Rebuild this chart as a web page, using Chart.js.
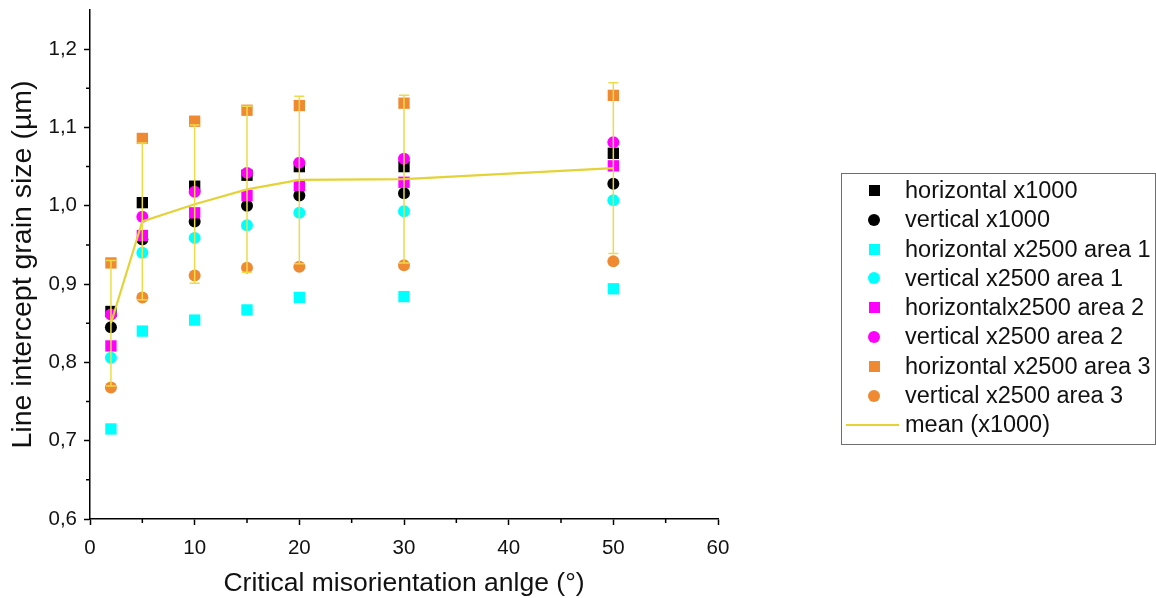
<!DOCTYPE html>
<html>
<head>
<meta charset="utf-8">
<script src="https://cdn.jsdelivr.net/npm/chart.js@4.4.1/dist/chart.umd.min.js"></script>
<style>
  html, body { margin: 0; padding: 0; background: #fff; }
  #wrap { position: relative; width: 1156px; height: 598px; }
  #legend {
    position: absolute; left: 841px; top: 173px; width: 313px; height: 268px;
    border: 1px solid #6e6e6e; font-family: "Liberation Sans", Arial, sans-serif;
    font-size: 23.5px; color: #111; padding-top: 2px; box-sizing: content-box;
  }
  .row { position: relative; height: 29.3px; line-height: 29.3px; }
  .row .txt { position: absolute; left: 63px; top: 0; white-space: nowrap; }
  .row .mk { position: absolute; }
</style>
</head>
<body>
<div id="wrap">
  <canvas id="myChart" width="1156" height="598"></canvas>
  <div id="legend"></div>
</div>
<script>
// 데이터
const angles = [2, 5, 10, 15, 20, 30, 50];
const horizontal1000 = [0.865, 1.004, 1.025, 1.039, 1.050, 1.050, 1.067];
const vertical1000 = [0.845, 0.957, 0.980, 1.000, 1.013, 1.016, 1.028];
const horizontal2500a1 = [0.715, 0.840, 0.854, 0.867, 0.883, 0.884, 0.894];
const vertical2500a1 = [0.806, 0.940, 0.959, 0.975, 0.991, 0.993, 1.007];
const horizontal2500a2 = [0.821, 0.962, 0.991, 1.013, 1.026, 1.030, 1.051];
const vertical2500a2 = [0.861, 0.986, 1.018, 1.042, 1.055, 1.060, 1.081];
const horizontal2500a3 = [0.927, 1.086, 1.108, 1.122, 1.128, 1.131, 1.141];
const vertical2500a3 = [0.768, 0.883, 0.911, 0.921, 0.922, 0.924, 0.929];
const mean1000 = [0.850, 0.980, 1.002, 1.021, 1.033, 1.034, 1.048];
const meanErr = [0.080, 0.100, 0.101, 0.106, 0.107, 0.107, 0.109];

const xTicks = [0, 10, 20, 30, 40, 50, 60];
const yTicks = [0.6, 0.7, 0.8, 0.9, 1.0, 1.1, 1.2];

const ORANGE = '#f08a32';
const YELLOW = '#e3d337';
const FONT = "'Liberation Sans', Arial, sans-serif";

const series = [
    { label: 'horizontal x1000', data: horizontal1000, color: '#000000', shape: 'rect' },
    { label: 'vertical x1000', data: vertical1000, color: '#000000', shape: 'circle' },
    { label: 'horizontal x2500 area 1', data: horizontal2500a1, color: '#00ffff', shape: 'rect' },
    { label: 'vertical x2500 area 1', data: vertical2500a1, color: '#00ffff', shape: 'circle' },
    { label: 'horizontalx2500 area 2', data: horizontal2500a2, color: '#ff00ff', shape: 'rect' },
    { label: 'vertical x2500 area 2', data: vertical2500a2, color: '#ff00ff', shape: 'circle' },
    { label: 'horizontal x2500 area 3', data: horizontal2500a3, color: ORANGE, shape: 'rect' },
    { label: 'vertical x2500 area 3', data: vertical2500a3, color: ORANGE, shape: 'circle' },
];

const toPoints = (arr) => angles.map((a, i) => ({ x: a, y: arr[i] }));

const datasets = series.map((s, i) => ({
    type: 'scatter',
    label: s.label,
    data: toPoints(s.data),
    backgroundColor: s.color,
    borderColor: s.color,
    borderWidth: 0,
    pointStyle: s.shape,
    pointRadius: s.shape === 'rect' ? 8 : 6,
    pointHoverRadius: s.shape === 'rect' ? 8 : 6,
    order: series.length - i + 1, // 뒤에 오는 데이터셋이 위에 그려지도록
}));

datasets.push({
    type: 'line',
    label: 'mean (x1000)',
    data: toPoints(mean1000),
    borderColor: YELLOW,
    backgroundColor: YELLOW,
    borderWidth: 2.2,
    pointRadius: 0,
    fill: false,
    tension: 0,
    order: 0,
});

// 평균선 오차 막대 + 보조 눈금
const extras = {
    id: 'extras',
    afterDatasetsDraw(chart) {
        const { ctx, scales: { x, y } } = chart;
        ctx.save();
        ctx.strokeStyle = '#ecdc4a';
        ctx.lineWidth = 1.5;
        angles.forEach((a, i) => {
            const px = x.getPixelForValue(a);
            const top = y.getPixelForValue(mean1000[i] + meanErr[i]);
            const bot = y.getPixelForValue(mean1000[i] - meanErr[i]);
            ctx.beginPath();
            ctx.moveTo(px, top); ctx.lineTo(px, bot);
            ctx.moveTo(px - 5, top); ctx.lineTo(px + 5, top);
            ctx.moveTo(px - 5, bot); ctx.lineTo(px + 5, bot);
            ctx.stroke();
        });
        ctx.restore();
    },
    afterDraw(chart) {
        const { ctx, scales: { x, y } } = chart;
        ctx.save();
        ctx.strokeStyle = '#000';
        ctx.lineWidth = 1.5;
        ctx.beginPath();
        for (let i = 0; i < xTicks.length - 1; i++) {
            const px = x.getPixelForValue((xTicks[i] + xTicks[i + 1]) / 2);
            ctx.moveTo(px, y.bottom); ctx.lineTo(px, y.bottom + 4);
        }
        for (let i = 0; i < yTicks.length - 1; i++) {
            const py = y.getPixelForValue((yTicks[i] + yTicks[i + 1]) / 2);
            ctx.moveTo(x.left, py); ctx.lineTo(x.left - 4, py);
        }
        ctx.stroke();
        ctx.restore();
    }
};

const ctx = document.getElementById('myChart').getContext('2d');
const myChart = new Chart(ctx, {
    data: { datasets: datasets },
    options: {
        responsive: false,
        animation: false,
        layout: { padding: { top: 10, right: 438, bottom: 0, left: 0 } },
        plugins: { legend: { display: false }, tooltip: { enabled: false } },
        scales: {
            x: {
                type: 'linear',
                min: 0, max: 60,
                afterFit: (s) => { s.height = 79; s.paddingLeft = 0; s.paddingRight = 0; },
                afterBuildTicks: (s) => { s.ticks = xTicks.map(v => ({ value: v })); },
                grid: { drawOnChartArea: false, tickLength: 6, tickColor: '#000', tickWidth: 1.5 },
                border: { color: '#000', width: 1.5 },
                ticks: { color: '#111', font: { family: FONT, size: 20.5 }, padding: 11, maxRotation: 0 },
                title: { display: true, text: 'Critical misorientation anlge (°)', color: '#111',
                         font: { family: FONT, size: 26.5, lineHeight: 1.1 }, padding: { top: 0, bottom: 0 } },
            },
            y: {
                type: 'linear',
                min: 0.6, max: 1.25,
                afterFit: (s) => { s.width = 90; s.paddingTop = 0; s.paddingBottom = 0; },
                afterBuildTicks: (s) => { s.ticks = yTicks.map(v => ({ value: v })); },
                grid: { drawOnChartArea: false, tickLength: 6, tickColor: '#000', tickWidth: 1.5 },
                border: { color: '#000', width: 1.5 },
                ticks: { color: '#111', font: { family: FONT, size: 20.5 }, padding: 7,
                         callback: (v) => v.toFixed(1).replace('.', ',') },
                title: { display: true, text: 'Line intercept grain size (µm)', color: '#111',
                         font: { family: FONT, size: 28.5, lineHeight: 1.1 }, padding: { top: 7, bottom: 0 } },
            },
        },
    },
    plugins: [extras],
});

// HTML 범례
const legendEl = document.getElementById('legend');
series.forEach((s) => {
    const row = document.createElement('div');
    row.className = 'row';
    const mk = document.createElement('div');
    mk.className = 'mk';
    const size = s.shape === 'rect' ? 11 : 12;
    mk.style.width = size + 'px';
    mk.style.height = size + 'px';
    mk.style.left = (32 - size / 2) + 'px';
    mk.style.top = (14.6 - size / 2) + 'px';
    mk.style.background = s.color;
    if (s.shape === 'circle') mk.style.borderRadius = '50%';
    row.appendChild(mk);
    const txt = document.createElement('span');
    txt.className = 'txt';
    txt.textContent = s.label;
    row.appendChild(txt);
    legendEl.appendChild(row);
});
const meanRow = document.createElement('div');
meanRow.className = 'row';
meanRow.innerHTML = '<div class="mk" style="left:4px;top:14px;width:53px;height:2px;background:' + YELLOW + '"></div>' +
    '<span class="txt">mean (x1000)</span>';
legendEl.appendChild(meanRow);
</script>
</body>
</html>
